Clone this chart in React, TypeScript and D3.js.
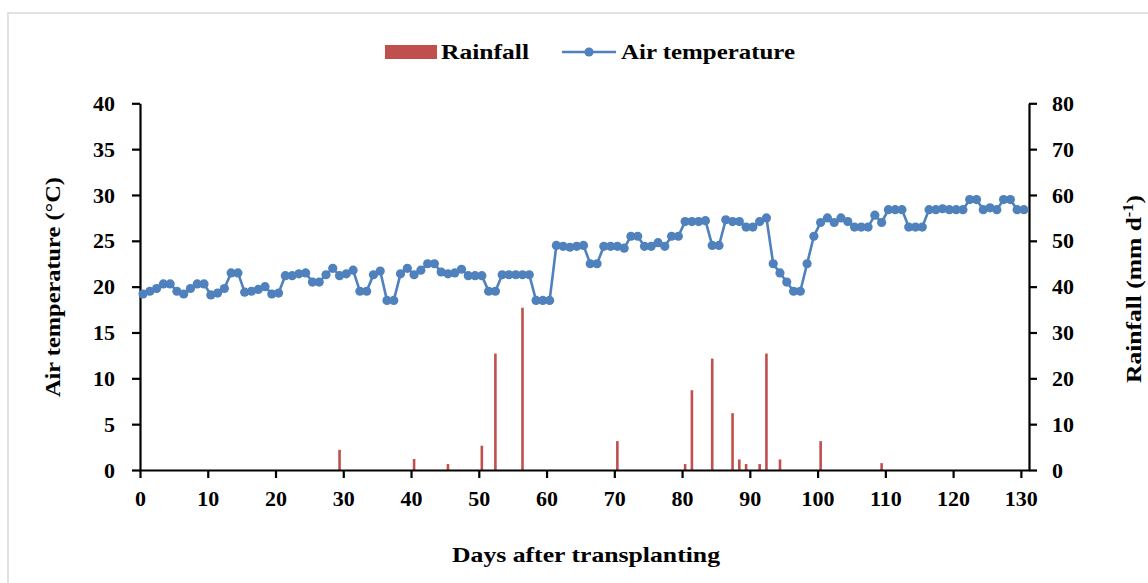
import React, { useEffect, useRef } from 'react';
import * as d3 from 'd3';

// Daily mean air temperature (°C), days 0..130 after transplanting
const TEMP = [
  19.2, 19.5, 19.8, 20.3, 20.3, 19.5, 19.2, 19.8, 20.3, 20.3,
  19.1, 19.3, 19.8, 21.5, 21.5, 19.4, 19.5, 19.7, 20.0, 19.2,
  19.3, 21.2, 21.2, 21.4, 21.5, 20.5, 20.5, 21.3, 22.0, 21.2,
  21.4, 21.8, 19.5, 19.5, 21.3, 21.7, 18.5, 18.5, 21.4, 22.0,
  21.3, 21.8, 22.5, 22.5, 21.6, 21.4, 21.5, 21.9, 21.2, 21.2,
  21.2, 19.5, 19.5, 21.3, 21.3, 21.3, 21.3, 21.3, 18.5, 18.5,
  18.5, 24.5, 24.4, 24.3, 24.4, 24.5, 22.5, 22.5, 24.4, 24.4,
  24.4, 24.2, 25.5, 25.5, 24.4, 24.4, 24.8, 24.4, 25.5, 25.5,
  27.1, 27.1, 27.1, 27.2, 24.5, 24.5, 27.3, 27.1, 27.1, 26.5,
  26.5, 27.1, 27.5, 22.5, 21.5, 20.5, 19.5, 19.5, 22.5, 25.5,
  27.0, 27.5, 27.0, 27.5, 27.1, 26.5, 26.5, 26.5, 27.8, 27.0,
  28.4, 28.4, 28.4, 26.5, 26.5, 26.5, 28.4, 28.4, 28.5, 28.4,
  28.4, 28.4, 29.5, 29.5, 28.4, 28.6, 28.4, 29.5, 29.5, 28.4,
  28.4,
];

// Rainy days and amounts (mm/d)
const RAIN_DAYS = [29, 40, 45, 50, 52, 56, 70, 80, 81, 84, 87, 88, 89, 91, 92, 94, 100, 109];
const RAIN_MM = [4.4, 2.4, 1.3, 5.3, 25.4, 35.4, 6.3, 1.3, 17.4, 24.3, 12.4, 2.3, 1.3, 1.3, 25.4, 2.3, 6.3, 1.5];

const X_TICKS = d3.range(0, 131, 10);
const TEMP_TICKS = d3.range(0, 41, 5);
const RAIN_TICKS = d3.range(0, 81, 10);

const BLUE = '#4F81BD';
const RED = '#C0504D';
const FONT = '"Liberation Serif", "Times New Roman", serif';

export default function App() {
  const svgRef = useRef<SVGSVGElement>(null);

  useEffect(() => {
    if (!svgRef.current) return;
    const svg = d3.select(svgRef.current);
    svg.selectAll('*').remove();

    const left = 140, right = 1029, top = 103.3, bottom = 470;
    const shift = 0.45; // points sit a little right of the day tick

    const x = d3.scaleLinear().domain([0, 131.2]).range([left, right]);
    const yT = d3.scaleLinear().domain([0, 40]).range([bottom, top]);
    const yR = d3.scaleLinear().domain([0, 80]).range([bottom, top]);

    // frame
    svg.append('rect')
      .attr('x', 8).attr('y', 13).attr('width', 1200).attr('height', 640)
      .attr('fill', 'white').attr('stroke', '#d9d9d9').attr('stroke-width', 1.5);

    // rainfall bars
    RAIN_DAYS.forEach((d, i) => {
      svg.append('rect')
        .attr('x', x(d + shift) - 1.3)
        .attr('y', yR(RAIN_MM[i]))
        .attr('width', 2.6)
        .attr('height', bottom - yR(RAIN_MM[i]))
        .attr('fill', RED);
    });

    // axes
    const fmt = (g: d3.Selection<SVGGElement, unknown, null, undefined>) => {
      g.select('.domain').attr('stroke', '#000').attr('stroke-width', 2.2);
      g.selectAll('.tick line').attr('stroke', '#000').attr('stroke-width', 2.2);
      g.selectAll('.tick text')
        .attr('font-family', FONT).attr('font-size', 22).attr('font-weight', 'bold').attr('fill', '#000');
    };

    svg.append('g')
      .attr('transform', `translate(0,${bottom})`)
      .call(d3.axisBottom(x).tickValues(X_TICKS).tickSizeInner(8).tickSizeOuter(0).tickPadding(12))
      .call(fmt);

    svg.append('g')
      .attr('transform', `translate(${left},0)`)
      .call(d3.axisLeft(yT).tickValues(TEMP_TICKS).tickSizeInner(8).tickSizeOuter(0).tickPadding(17))
      .call(fmt);

    svg.append('g')
      .attr('transform', `translate(${right},0)`)
      .call(d3.axisRight(yR).tickValues(RAIN_TICKS).tickSizeInner(8).tickSizeOuter(0).tickPadding(15))
      .call(fmt);

    // temperature line
    const line = d3.line<number>()
      .x((_, i) => x(i + shift))
      .y(v => yT(v));

    svg.append('path')
      .datum(TEMP)
      .attr('d', line)
      .attr('fill', 'none')
      .attr('stroke', BLUE)
      .attr('stroke-width', 2.6);

    svg.append('g')
      .selectAll('circle')
      .data(TEMP)
      .join('circle')
      .attr('cx', (_, i) => x(i + shift))
      .attr('cy', v => yT(v))
      .attr('r', 4.6)
      .attr('fill', BLUE);

    // titles
    const title = (sel: d3.Selection<SVGTextElement, unknown, null, undefined>) =>
      sel.attr('font-family', FONT).attr('font-size', 22).attr('font-weight', 'bold').attr('fill', '#000');

    svg.append('text')
      .attr('x', 586).attr('y', 562)
      .attr('text-anchor', 'middle')
      .attr('textLength', 268).attr('lengthAdjust', 'spacingAndGlyphs')
      .call(title)
      .text('Days after transplanting');

    svg.append('text')
      .attr('transform', 'translate(60,287) rotate(-90)')
      .attr('text-anchor', 'middle')
      .attr('textLength', 220).attr('lengthAdjust', 'spacingAndGlyphs')
      .call(title)
      .text('Air temperature (°C)');

    const rt = svg.append('text')
      .attr('transform', 'translate(1141,289) rotate(-90) scale(1.16,1)')
      .attr('text-anchor', 'middle')
      .call(title);
    rt.append('tspan').text('Rainfall (mm d');
    rt.append('tspan').attr('dy', -8).attr('font-size', 14).text('-1');
    rt.append('tspan').attr('dy', 8).text(')');

    // legend
    svg.append('rect')
      .attr('x', 385).attr('y', 45).attr('width', 52).attr('height', 14).attr('fill', RED);
    svg.append('text')
      .attr('x', 441).attr('y', 59)
      .attr('textLength', 88).attr('lengthAdjust', 'spacingAndGlyphs')
      .call(title)
      .text('Rainfall');
    svg.append('line')
      .attr('x1', 562).attr('x2', 616).attr('y1', 52).attr('y2', 52)
      .attr('stroke', BLUE).attr('stroke-width', 2.6);
    svg.append('circle')
      .attr('cx', 589).attr('cy', 52).attr('r', 4.6).attr('fill', BLUE);
    svg.append('text')
      .attr('x', 621).attr('y', 59)
      .attr('textLength', 174).attr('lengthAdjust', 'spacingAndGlyphs')
      .call(title)
      .text('Air temperature');
  }, []);

  return (
    <svg
      ref={svgRef}
      width={1148}
      height={583}
      style={{ position: 'absolute', left: 0, top: 0, background: 'white' }}
    />
  );
}
